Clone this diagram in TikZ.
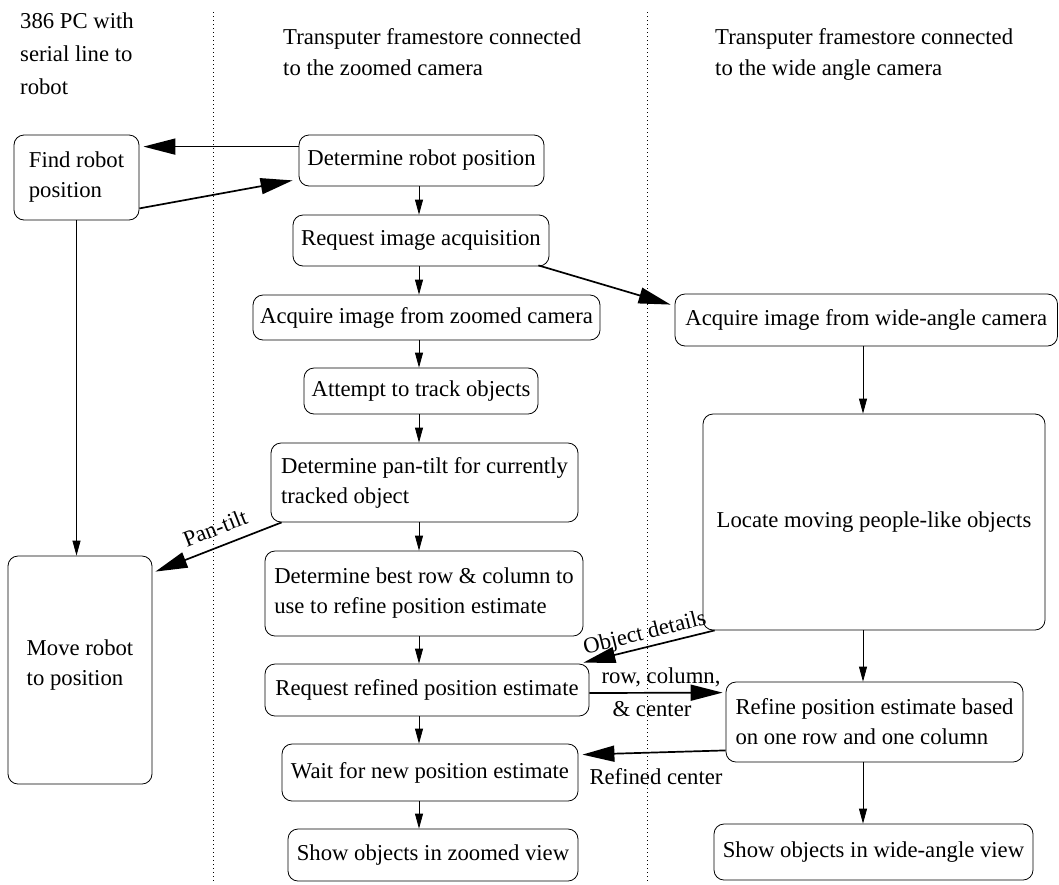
\documentclass[tikz,border=0pt]{standalone}
\usepackage{fontspec}
\setmainfont{Liberation Serif}
\usetikzlibrary{arrows.meta,calc}
\begin{document}
\begin{tikzpicture}[x=1pt,y=-1pt,
  every node/.style={font=\fontsize{22.7}{30}\selectfont},
  box/.style={draw, rounded corners=10pt, line width=0.8pt, inner sep=0pt, align=left},
  smallarr/.style={line width=0.8pt, -{Triangle[length=15pt,width=8pt]}},
  bigarr/.style={line width=1.7pt, -{Triangle[length=32pt,width=16pt]}},
  lane/.style={line width=0.9pt, dash pattern=on 1pt off 3pt},
  hdr/.style={anchor=base west, inner sep=0pt},
  lbl/.style={inner sep=0pt}]
\useasboundingbox (0,0) rectangle (1059,884);

% swim lane separators
\coordinate (l1t) at (213,12); \coordinate (l1b) at (213,884);
\coordinate (l2t) at (647,12); \coordinate (l2b) at (647,884);
\draw[lane] (l1t) -- (l1b);
\draw[lane] (l2t) -- (l2b);

% headers
\node[hdr] (h1a) at (20,28) {386 PC with};
\node[hdr] (h1b) at (20,61) {serial line to};
\node[hdr] (h1c) at (20,94) {robot};
\node[hdr] (h2a) at (283,44) {Transputer framestore connected};
\node[hdr] (h2b) at (283,75) {to the zoomed camera};
\node[hdr] (h3a) at (715,44) {Transputer framestore connected};
\node[hdr] (h3b) at (715,75) {to the wide angle camera};

% left column
\node[box, minimum width=125pt, minimum height=85pt] (FR) at (76.5,177.5) {Find robot\\position};
\node[box, minimum width=144pt, minimum height=228pt] (MV) at (80,670) {Move robot\\to position\\[-16pt]\mbox{}};

% middle column
\node[box, minimum width=245pt, minimum height=51pt] (DRP) at (421.5,160.5) {Determine robot position};
\node[box, minimum width=256pt, minimum height=51pt] (RIA) at (421,240.5) {Request image acquisition};
\node[box, minimum width=347pt, minimum height=45pt] (AIZ) at (426.5,317.5) {Acquire image from zoomed camera};
\node[box, minimum width=234pt, minimum height=46pt] (ATT) at (421,391) {Attempt to track objects};
\node[box, minimum width=307pt, minimum height=79pt] (DPT) at (424.5,482.5) {Determine pan-tilt for currently\\tracked object};
\node[box, minimum width=318pt, minimum height=85pt] (DBR) at (424,593.5) {Determine best row \& column to\\use to refine position estimate};
\node[box, minimum width=324pt, minimum height=52pt] (RRP) at (427,690) {Request refined position estimate};
\node[box, minimum width=296pt, minimum height=57pt] (WNP) at (430,772.5) {Wait for new position estimate};
\node[box, minimum width=290pt, minimum height=52pt] (SZV) at (433,855) {Show objects in zoomed view};

% right column
\node[box, minimum width=382.5pt, minimum height=52pt] (AWC) at (866.25,320) {Acquire image from wide-angle camera};
\node[box, minimum width=342pt, minimum height=216pt] (LOC) at (874,522) {Locate moving people-like objects};
\node[box, minimum width=297pt, minimum height=80pt] (REF) at (874.5,722) {Refine position estimate based\\on one row and one column};
\node[box, minimum width=319pt, minimum height=56pt] (SWV) at (873.5,852) {Show objects in wide-angle view};

% column axes for vertical arrows
\coordinate (zc) at (419,0);
\coordinate (wc) at (863,0);

% vertical arrows, middle column
\draw[smallarr] (DRP.south -| zc) -- (RIA.north -| zc);
\draw[smallarr] (RIA.south -| zc) -- (AIZ.north -| zc);
\draw[smallarr] (AIZ.south -| zc) -- (ATT.north -| zc);
\draw[smallarr] (ATT.south -| zc) -- (DPT.north -| zc);
\draw[smallarr] (DPT.south -| zc) -- (DBR.north -| zc);
\draw[smallarr] (DBR.south -| zc) -- (RRP.north -| zc);
\draw[smallarr] (RRP.south -| zc) -- (WNP.north -| zc);
\draw[smallarr] (WNP.south -| zc) -- (SZV.north -| zc);

% vertical arrows, right column
\draw[smallarr] (AWC.south -| wc) -- (LOC.north -| wc);
\draw[smallarr] (LOC.south -| wc) -- (REF.north -| wc);
\draw[smallarr] (REF.south -| wc) -- (SWV.north -| wc);

% left column arrow
\draw[smallarr] (FR.south) -- (FR.south |- MV.north);

% cross-lane arrows
\draw[bigarr] ($(DRP.north west)+(0,12)$) -- ($(FR.north east)+(4,12)$);
\draw[bigarr] ($(FR.south east)+(0,-12)$) -- ($(DRP.south west)+(-6,-6)$);
\draw[bigarr] ($(RIA.south east)+(-11,-1)$) -- ($(AWC.north west)+(-4,11)$);
\draw[bigarr] ($(DPT.south west)+(11,0)$) -- ($(MV.north east)+(3,16)$);
\draw[bigarr] ($(LOC.south west)+(12,0)$) -- ($(RRP.north east)+(-6,-1)$);
\draw[bigarr] ($(RRP.east)+(0,3)$) -- ($(REF.north west)+(-3,11)$);
\draw[bigarr] ($(REF.south west)+(0,-12)$) -- ($(WNP.north east)+(4,11)$);

% arrow labels
\node[lbl, rotate=21.5] (lpt) at (215,528) {Pan-tilt};
\node[lbl, rotate=14] (lod) at (645,634) {Object details};
\node[lbl, anchor=base] (lrc1) at (661,683) {row, column,};
\node[lbl, anchor=base] (lrc2) at (652,716) {\& center};
\node[lbl, anchor=base] (lrf) at (656,784) {Refined center};
\end{tikzpicture}
\end{document}
